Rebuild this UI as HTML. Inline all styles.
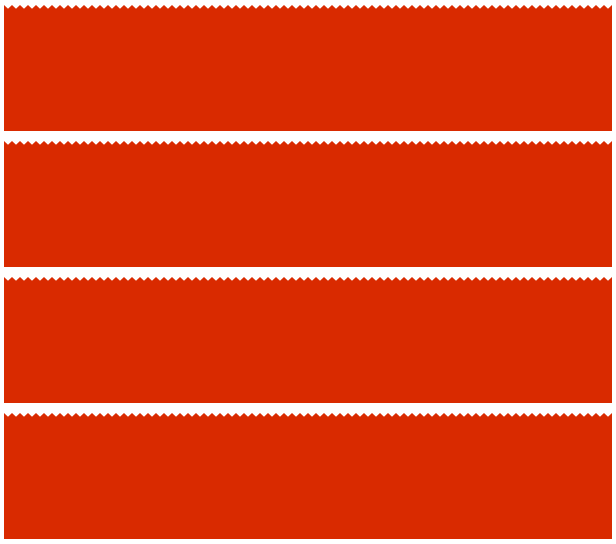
<!DOCTYPE html>
<html><head><meta charset="utf-8"><style>
html,body{margin:0;padding:0;background:#fff;width:616px;height:544px;overflow:hidden}
svg{display:block}
</style></head><body>
<svg id="chart" width="616" height="544" xmlns="http://www.w3.org/2000/svg"></svg>
<script>
const series1 = [100,97,100,97,100,97,100,97,100,97,100,97,100,97,100,97,100,97,100,97,100,97,100,97,100,97,100,97,100,97,100,97,100,97,100,97,100,97,100,97,100,97,100,97,100,97,100,97,100,97,100,97,100,97,100,97,100,97,100,97,100,97,100,97,100,97,100,97,100,97,100,97,100,97,100,97,100,97,100,97,100,97,100,97,100,97,100,97,100,97,100,97,100,97,100,97,100,97,100,97,100,97,100,97,100,97,100,97,100,97,100,97,100,97,100,97,100,97,100,97,100,97,100,97,100,97,100,97,100,97,100,97,100,97,100,97,100,97,100,97,100,97,100,97,100,97,100,97,100,97,100,97,100];
const series2 = series1.slice();
const series3 = series1.slice();
const series4 = series1.slice();
const panelNames = ['panel-1','panel-2','panel-3','panel-4'];
const allSeries = [series1, series2, series3, series4];
const yMax = 100;

const svg = document.getElementById('chart');
const NS = 'http://www.w3.org/2000/svg';
const left = 4, right = 612, panelH = 126;
const tops = [5, 141, 277, 413];

allSeries.forEach((vals, i) => {
  const top = tops[i], bottom = top + panelH;
  const x = k => left + k * (right - left) / (vals.length - 1);
  const y = v => bottom - (v / yMax) * panelH;
  let d = `M${left},${bottom}`;
  vals.forEach((v, k) => { d += ` L${x(k).toFixed(2)},${y(v).toFixed(2)}`; });
  d += ` L${right},${bottom} Z`;
  const p = document.createElementNS(NS, 'path');
  p.setAttribute('d', d);
  p.setAttribute('fill', '#d92a00');
  
  
  svg.appendChild(p);
});
</script>
</body></html>
